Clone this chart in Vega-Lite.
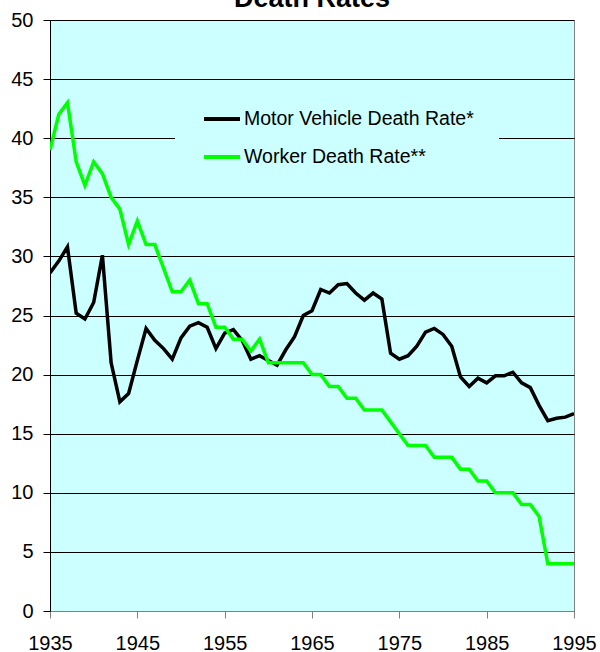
{
  "$schema": "https://vega.github.io/schema/vega-lite/v6.json",
  "autosize": "none",
  "width": 524,
  "height": 591,
  "padding": {"left": 50, "top": 20, "right": 26, "bottom": 41},
  "background": "#ffffff",
  "title": {"text": "Death Rates", "fontSize": 27, "fontWeight": "bold", "font": "Liberation Sans", "color": "#000000", "anchor": "middle", "offset": -3},
  "datasets": {
    "rates": [
      {"year": 1935, "series": "Motor Vehicle Death Rate*", "rate": 28.6},
      {"year": 1936, "series": "Motor Vehicle Death Rate*", "rate": 29.6},
      {"year": 1937, "series": "Motor Vehicle Death Rate*", "rate": 30.8},
      {"year": 1938, "series": "Motor Vehicle Death Rate*", "rate": 25.2},
      {"year": 1939, "series": "Motor Vehicle Death Rate*", "rate": 24.7},
      {"year": 1940, "series": "Motor Vehicle Death Rate*", "rate": 26.1},
      {"year": 1941, "series": "Motor Vehicle Death Rate*", "rate": 30.1},
      {"year": 1942, "series": "Motor Vehicle Death Rate*", "rate": 21.0},
      {"year": 1943, "series": "Motor Vehicle Death Rate*", "rate": 17.7},
      {"year": 1944, "series": "Motor Vehicle Death Rate*", "rate": 18.4},
      {"year": 1945, "series": "Motor Vehicle Death Rate*", "rate": 21.2},
      {"year": 1946, "series": "Motor Vehicle Death Rate*", "rate": 23.9},
      {"year": 1947, "series": "Motor Vehicle Death Rate*", "rate": 22.9},
      {"year": 1948, "series": "Motor Vehicle Death Rate*", "rate": 22.2},
      {"year": 1949, "series": "Motor Vehicle Death Rate*", "rate": 21.3},
      {"year": 1950, "series": "Motor Vehicle Death Rate*", "rate": 23.1},
      {"year": 1951, "series": "Motor Vehicle Death Rate*", "rate": 24.1},
      {"year": 1952, "series": "Motor Vehicle Death Rate*", "rate": 24.4},
      {"year": 1953, "series": "Motor Vehicle Death Rate*", "rate": 24.0},
      {"year": 1954, "series": "Motor Vehicle Death Rate*", "rate": 22.2},
      {"year": 1955, "series": "Motor Vehicle Death Rate*", "rate": 23.5},
      {"year": 1956, "series": "Motor Vehicle Death Rate*", "rate": 23.8},
      {"year": 1957, "series": "Motor Vehicle Death Rate*", "rate": 22.9},
      {"year": 1958, "series": "Motor Vehicle Death Rate*", "rate": 21.3},
      {"year": 1959, "series": "Motor Vehicle Death Rate*", "rate": 21.6},
      {"year": 1960, "series": "Motor Vehicle Death Rate*", "rate": 21.2},
      {"year": 1961, "series": "Motor Vehicle Death Rate*", "rate": 20.8},
      {"year": 1962, "series": "Motor Vehicle Death Rate*", "rate": 22.1},
      {"year": 1963, "series": "Motor Vehicle Death Rate*", "rate": 23.2},
      {"year": 1964, "series": "Motor Vehicle Death Rate*", "rate": 25.0},
      {"year": 1965, "series": "Motor Vehicle Death Rate*", "rate": 25.4},
      {"year": 1966, "series": "Motor Vehicle Death Rate*", "rate": 27.2},
      {"year": 1967, "series": "Motor Vehicle Death Rate*", "rate": 26.9},
      {"year": 1968, "series": "Motor Vehicle Death Rate*", "rate": 27.6},
      {"year": 1969, "series": "Motor Vehicle Death Rate*", "rate": 27.7},
      {"year": 1970, "series": "Motor Vehicle Death Rate*", "rate": 26.9},
      {"year": 1971, "series": "Motor Vehicle Death Rate*", "rate": 26.3},
      {"year": 1972, "series": "Motor Vehicle Death Rate*", "rate": 26.9},
      {"year": 1973, "series": "Motor Vehicle Death Rate*", "rate": 26.4},
      {"year": 1974, "series": "Motor Vehicle Death Rate*", "rate": 21.8},
      {"year": 1975, "series": "Motor Vehicle Death Rate*", "rate": 21.3},
      {"year": 1976, "series": "Motor Vehicle Death Rate*", "rate": 21.6},
      {"year": 1977, "series": "Motor Vehicle Death Rate*", "rate": 22.4},
      {"year": 1978, "series": "Motor Vehicle Death Rate*", "rate": 23.6},
      {"year": 1979, "series": "Motor Vehicle Death Rate*", "rate": 23.9},
      {"year": 1980, "series": "Motor Vehicle Death Rate*", "rate": 23.4},
      {"year": 1981, "series": "Motor Vehicle Death Rate*", "rate": 22.4},
      {"year": 1982, "series": "Motor Vehicle Death Rate*", "rate": 19.8},
      {"year": 1983, "series": "Motor Vehicle Death Rate*", "rate": 19.0},
      {"year": 1984, "series": "Motor Vehicle Death Rate*", "rate": 19.7},
      {"year": 1985, "series": "Motor Vehicle Death Rate*", "rate": 19.3},
      {"year": 1986, "series": "Motor Vehicle Death Rate*", "rate": 19.9},
      {"year": 1987, "series": "Motor Vehicle Death Rate*", "rate": 19.9},
      {"year": 1988, "series": "Motor Vehicle Death Rate*", "rate": 20.2},
      {"year": 1989, "series": "Motor Vehicle Death Rate*", "rate": 19.3},
      {"year": 1990, "series": "Motor Vehicle Death Rate*", "rate": 18.9},
      {"year": 1991, "series": "Motor Vehicle Death Rate*", "rate": 17.4},
      {"year": 1992, "series": "Motor Vehicle Death Rate*", "rate": 16.1},
      {"year": 1993, "series": "Motor Vehicle Death Rate*", "rate": 16.3},
      {"year": 1994, "series": "Motor Vehicle Death Rate*", "rate": 16.4},
      {"year": 1995, "series": "Motor Vehicle Death Rate*", "rate": 16.7},
      {"year": 1935, "series": "Worker Death Rate**", "rate": 39},
      {"year": 1936, "series": "Worker Death Rate**", "rate": 42},
      {"year": 1937, "series": "Worker Death Rate**", "rate": 43},
      {"year": 1938, "series": "Worker Death Rate**", "rate": 38},
      {"year": 1939, "series": "Worker Death Rate**", "rate": 36},
      {"year": 1940, "series": "Worker Death Rate**", "rate": 38},
      {"year": 1941, "series": "Worker Death Rate**", "rate": 37},
      {"year": 1942, "series": "Worker Death Rate**", "rate": 35},
      {"year": 1943, "series": "Worker Death Rate**", "rate": 34},
      {"year": 1944, "series": "Worker Death Rate**", "rate": 31},
      {"year": 1945, "series": "Worker Death Rate**", "rate": 33},
      {"year": 1946, "series": "Worker Death Rate**", "rate": 31},
      {"year": 1947, "series": "Worker Death Rate**", "rate": 31},
      {"year": 1948, "series": "Worker Death Rate**", "rate": 29},
      {"year": 1949, "series": "Worker Death Rate**", "rate": 27},
      {"year": 1950, "series": "Worker Death Rate**", "rate": 27},
      {"year": 1951, "series": "Worker Death Rate**", "rate": 28},
      {"year": 1952, "series": "Worker Death Rate**", "rate": 26},
      {"year": 1953, "series": "Worker Death Rate**", "rate": 26},
      {"year": 1954, "series": "Worker Death Rate**", "rate": 24},
      {"year": 1955, "series": "Worker Death Rate**", "rate": 24},
      {"year": 1956, "series": "Worker Death Rate**", "rate": 23},
      {"year": 1957, "series": "Worker Death Rate**", "rate": 23},
      {"year": 1958, "series": "Worker Death Rate**", "rate": 22},
      {"year": 1959, "series": "Worker Death Rate**", "rate": 23},
      {"year": 1960, "series": "Worker Death Rate**", "rate": 21},
      {"year": 1961, "series": "Worker Death Rate**", "rate": 21},
      {"year": 1962, "series": "Worker Death Rate**", "rate": 21},
      {"year": 1963, "series": "Worker Death Rate**", "rate": 21},
      {"year": 1964, "series": "Worker Death Rate**", "rate": 21},
      {"year": 1965, "series": "Worker Death Rate**", "rate": 20},
      {"year": 1966, "series": "Worker Death Rate**", "rate": 20},
      {"year": 1967, "series": "Worker Death Rate**", "rate": 19},
      {"year": 1968, "series": "Worker Death Rate**", "rate": 19},
      {"year": 1969, "series": "Worker Death Rate**", "rate": 18},
      {"year": 1970, "series": "Worker Death Rate**", "rate": 18},
      {"year": 1971, "series": "Worker Death Rate**", "rate": 17},
      {"year": 1972, "series": "Worker Death Rate**", "rate": 17},
      {"year": 1973, "series": "Worker Death Rate**", "rate": 17},
      {"year": 1974, "series": "Worker Death Rate**", "rate": 16},
      {"year": 1975, "series": "Worker Death Rate**", "rate": 15},
      {"year": 1976, "series": "Worker Death Rate**", "rate": 14},
      {"year": 1977, "series": "Worker Death Rate**", "rate": 14},
      {"year": 1978, "series": "Worker Death Rate**", "rate": 14},
      {"year": 1979, "series": "Worker Death Rate**", "rate": 13},
      {"year": 1980, "series": "Worker Death Rate**", "rate": 13},
      {"year": 1981, "series": "Worker Death Rate**", "rate": 13},
      {"year": 1982, "series": "Worker Death Rate**", "rate": 12},
      {"year": 1983, "series": "Worker Death Rate**", "rate": 12},
      {"year": 1984, "series": "Worker Death Rate**", "rate": 11},
      {"year": 1985, "series": "Worker Death Rate**", "rate": 11},
      {"year": 1986, "series": "Worker Death Rate**", "rate": 10},
      {"year": 1987, "series": "Worker Death Rate**", "rate": 10},
      {"year": 1988, "series": "Worker Death Rate**", "rate": 10},
      {"year": 1989, "series": "Worker Death Rate**", "rate": 9},
      {"year": 1990, "series": "Worker Death Rate**", "rate": 9},
      {"year": 1991, "series": "Worker Death Rate**", "rate": 8},
      {"year": 1992, "series": "Worker Death Rate**", "rate": 4},
      {"year": 1993, "series": "Worker Death Rate**", "rate": 4},
      {"year": 1994, "series": "Worker Death Rate**", "rate": 4},
      {"year": 1995, "series": "Worker Death Rate**", "rate": 4}
    ]
  },
  "data": {"name": "rates"},
  "mark": {"type": "line", "strokeWidth": 3.5, "strokeJoin": "miter", "clip": true},
  "encoding": {
    "x": {
      "field": "year", "type": "quantitative",
      "scale": {"domain": [1935, 1995], "nice": false, "zero": false},
      "axis": {
        "title": null, "values": [1935, 1945, 1955, 1965, 1975, 1985, 1995], "format": "d",
        "grid": false, "tickSize": 7, "tickColor": "#808080", "domainColor": "#808080",
        "labelFontSize": 20, "labelFont": "Liberation Sans", "labelColor": "#000000",
        "labelPadding": 15, "labelFlush": false, "labelOverlap": false
      }
    },
    "y": {
      "field": "rate", "type": "quantitative",
      "scale": {"domain": [0, 50], "nice": false},
      "axis": {
        "title": null, "values": [0, 5, 10, 15, 20, 25, 30, 35, 40, 45, 50],
        "grid": true, "gridColor": "#000000", "gridWidth": 1, "gridOpacity": 1,
        "tickSize": 7, "tickColor": "#000000", "domainColor": "#000000",
        "labelFontSize": 20, "labelFont": "Liberation Sans", "labelColor": "#000000",
        "labelPadding": 10, "labelFlush": false, "labelOverlap": false
      }
    },
    "color": {
      "field": "series", "type": "nominal",
      "scale": {"domain": ["Motor Vehicle Death Rate*", "Worker Death Rate**"], "range": ["#000000", "#00ff00"]},
      "legend": {
        "title": null, "orient": "none", "legendX": 125, "legendY": 69,
        "direction": "vertical",
        "fillColor": "#ccffff", "strokeColor": null, "padding": 10,
        "symbolType": "stroke", "symbolSize": 1296, "symbolStrokeWidth": 4,
        "symbolOffset": 17, "labelOffset": 2, "rowPadding": 8,
        "labelFontSize": 19.5, "labelFont": "Liberation Sans", "labelColor": "#000000",
        "labelLimit": 400,
        "labelExpr": "datum.label + '\u2800'"
      }
    }
  },
  "config": {
    "view": {"fill": "#ccffff", "stroke": "#808080", "strokeWidth": 1},
    "axis": {"domainWidth": 1, "tickWidth": 1}
  }
}
